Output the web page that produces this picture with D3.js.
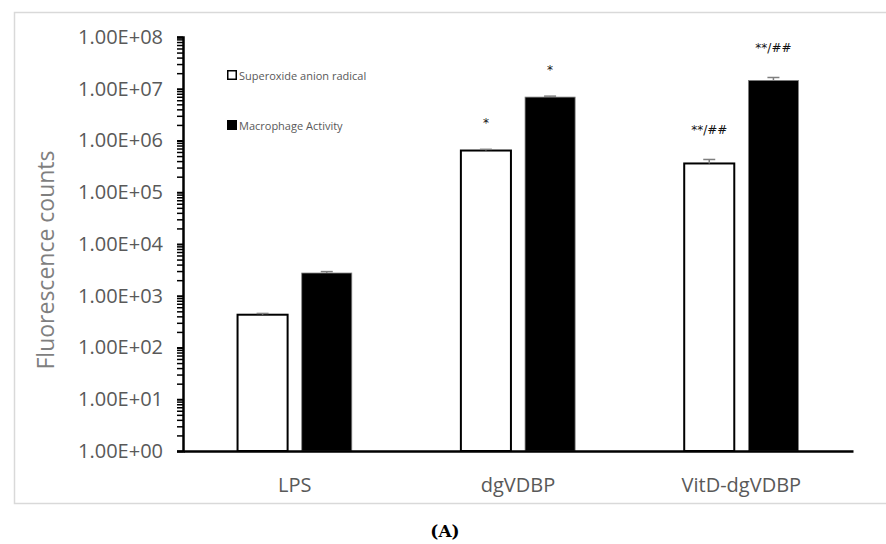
<!DOCTYPE html>
<html>
<head>
<meta charset="utf-8">
<script src="https://cdn.jsdelivr.net/npm/d3@7"></script>
<style>
  body { margin: 0; background: #fff; }
  svg { display: block; }
</style>
</head>
<body>
<svg id="chart"></svg>
<script>
const width = 886, height = 544;

// data
const categories = ['LPS', 'dgVDBP', 'VitD-dgVDBP'];
const seriesNames = ['Superoxide anion radical', 'Macrophage Activity'];
const superoxide = [430, 640000, 360000];
const superoxideErr = [25, 35000, 70000];
const macrophage = [2750, 6900000, 14500000];
const macrophageErr = [180, 300000, 2000000];
const marks = [['', ''], ['*', '*'], ['**/##', '**/##']];
const yTickValues = [1, 10, 100, 1e3, 1e4, 1e5, 1e6, 1e7, 1e8];

const margin = {top: 37, right: 33, bottom: 93, left: 183};
const svg = d3.select('#chart').attr('width', width).attr('height', height);

// light frame like the original export
svg.append('rect')
  .attr('x', 14.5).attr('y', 12.5)
  .attr('width', 900).attr('height', 491)
  .attr('fill', 'none').attr('stroke', '#d9d9d9').attr('stroke-width', 1.5);

const x = d3.scaleBand().domain(categories)
  .range([margin.left, width - margin.right]).padding(0);
const sub = d3.scaleBand().domain(seriesNames)
  .range([0, x.bandwidth()]).paddingInner(0.22).paddingOuter(0.85);
const y = d3.scaleLog().domain([1, 1e8])
  .range([height - margin.bottom, margin.top]);

const rows = categories.map((c, i) => ({
  cat: c,
  vals: [
    {s: seriesNames[0], v: superoxide[i], e: superoxideErr[i], fill: '#fff', mark: marks[i][0]},
    {s: seriesNames[1], v: macrophage[i], e: macrophageErr[i], fill: '#000', mark: marks[i][1]}
  ]
}));

const g = svg.append('g');
const groups = g.selectAll('g.cat').data(rows).join('g')
  .attr('transform', d => `translate(${x(d.cat)},0)`);

const bars = groups.selectAll('g.bar').data(d => d.vals).join('g');

bars.append('rect')
  .attr('x', d => sub(d.s))
  .attr('width', sub.bandwidth())
  .attr('y', d => y(d.v))
  .attr('height', d => y(1) - y(d.v))
  .attr('fill', d => d.fill)
  .attr('stroke', d => d.fill === '#000' ? '#808080' : '#000')
  .attr('stroke-width', d => d.fill === '#000' ? 0.8 : 2);

// error bars
bars.append('line')
  .attr('x1', d => sub(d.s) + sub.bandwidth() / 2)
  .attr('x2', d => sub(d.s) + sub.bandwidth() / 2)
  .attr('y1', d => y(d.v))
  .attr('y2', d => y(d.v + d.e))
  .attr('stroke', '#7f7f7f').attr('stroke-width', 1.5);
bars.append('line')
  .attr('x1', d => sub(d.s) + sub.bandwidth() / 2 - 6)
  .attr('x2', d => sub(d.s) + sub.bandwidth() / 2 + 6)
  .attr('y1', d => y(d.v + d.e))
  .attr('y2', d => y(d.v + d.e))
  .attr('stroke', '#7f7f7f').attr('stroke-width', 1.5);

// significance marks
bars.append('text')
  .attr('x', d => sub(d.s) + sub.bandwidth() / 2)
  .attr('y', d => y(d.v + d.e) - (d.mark === '*' ? 22 : 25))
  .attr('text-anchor', 'middle')
  .attr('font-family', 'DejaVu Sans, sans-serif')
  .attr('font-size', 12).attr('fill', '#111')
  .text(d => d.mark);

// y axis with minor log ticks
const minorTicks = y.ticks().filter(t => !yTickValues.includes(t));
svg.append('g')
  .attr('transform', `translate(${margin.left},0)`)
  .call(d3.axisLeft(y).tickValues(minorTicks).tickSize(6).tickFormat(''))
  .call(s => s.select('.domain').remove())
  .call(s => s.selectAll('line').attr('stroke', '#000').attr('stroke-width', 1.5));

svg.append('g')
  .attr('transform', `translate(${margin.left},0)`)
  .call(d3.axisLeft(y).tickValues(yTickValues).tickSize(6).tickPadding(14)
    .tickFormat(d => d3.format('.2e')(d).toUpperCase().replace(/E([+-])(\d)$/, 'E$10$2')))
  .call(s => s.select('.domain').attr('stroke', '#000').attr('stroke-width', 2.5))
  .call(s => s.selectAll('line').attr('stroke', '#000').attr('stroke-width', 2))
  .call(s => s.selectAll('text').attr('fill', '#595959')
    .attr('font-family', 'Open Sans, sans-serif').attr('font-size', 20));

// x axis
svg.append('g')
  .attr('transform', `translate(0,${y(1)})`)
  .call(d3.axisBottom(x).tickSize(0).tickPadding(27))
  .call(s => s.select('.domain').attr('stroke', '#000').attr('stroke-width', 2.5))
  .call(s => s.selectAll('text').attr('fill', '#595959')
    .attr('font-family', 'Open Sans, sans-serif').attr('font-size', 20));

// y title
svg.append('text')
  .attr('transform', `translate(54,${(margin.top + y(1)) / 2 + 16}) rotate(-90)`)
  .attr('text-anchor', 'middle')
  .attr('font-family', 'Open Sans, sans-serif')
  .attr('font-size', 23).attr('fill', '#7f7f7f')
  .text('Fluorescence counts');

// legend
const legend = svg.append('g').attr('transform', 'translate(227,70)');
const li = legend.selectAll('g').data(seriesNames).join('g')
  .attr('transform', (d, i) => `translate(0,${i * 50})`);
li.append('rect')
  .attr('x', 0.75).attr('y', 0.75).attr('width', 8.5).attr('height', 8.5)
  .attr('fill', (d, i) => i === 0 ? '#fff' : '#000')
  .attr('stroke', '#000').attr('stroke-width', 1.5);
li.append('text')
  .attr('x', 12).attr('y', 9.5)
  .attr('font-family', 'Open Sans, sans-serif')
  .attr('font-size', 11).attr('fill', '#595959')
  .text(d => d);

// panel label
svg.append('text')
  .attr('x', 445).attr('y', 537)
  .attr('text-anchor', 'middle')
  .attr('font-family', 'DejaVu Serif, serif')
  .attr('font-weight', 'bold').attr('font-size', 17)
  .text('(A)');
</script>
</body>
</html>
